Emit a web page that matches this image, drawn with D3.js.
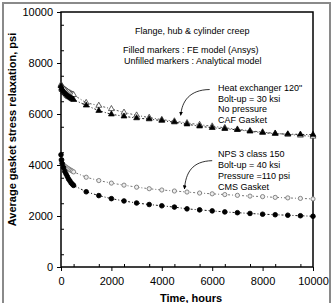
<!DOCTYPE html>
<html lang="en">
<head>
    <meta charset="UTF-8">
    <title>Gasket stress relaxation</title>
    <style>
        body { margin: 0; background: #fff; }
        svg { display: block; font-family: "Liberation Sans", Arial, sans-serif; }
    </style>
</head>
<body>
    <div id="chart"></div>
    <script src="https://d3js.org/d3.v7.min.js"></script>
    <script>
        // time points (hours) shared by all four series
        var hours = [0, 25, 50, 100, 150, 200, 250, 300, 350, 400, 450, 500,
            1000, 1500, 2000, 2500, 3000, 3500, 4000, 4500, 5000, 5500, 6000,
            6500, 7000, 7500, 8000, 8500, 9000, 9500, 10000];

        // Heat exchanger 120", FE model (filled triangles)
        var hxFE = [7100, 7000, 6950, 6880, 6820, 6770, 6720, 6680, 6650, 6620, 6590, 6560,
            6340, 6130, 5990, 5910, 5840, 5800, 5740, 5680, 5600, 5520, 5460,
            5420, 5380, 5320, 5270, 5230, 5210, 5200, 5190];
        // Heat exchanger 120", analytical model (unfilled triangles)
        var hxAnalytical = [7150, 7100, 7050, 7000, 6960, 6920, 6880, 6850, 6820, 6790, 6770, 6750,
            6440, 6330, 6200, 6060, 5950, 5860, 5780, 5720, 5650, 5580, 5520,
            5460, 5400, 5340, 5290, 5240, 5200, 5160, 5120];
        // NPS 3 class 150, FE model (filled circles)
        var npsFE = [4400, 4200, 4050, 3900, 3750, 3650, 3550, 3450, 3380, 3300, 3250, 3200,
            2950, 2800, 2680, 2590, 2510, 2450, 2400, 2350, 2280, 2240, 2200,
            2160, 2130, 2100, 2070, 2050, 2030, 2010, 1990];
        // NPS 3 class 150, analytical model (unfilled circles)
        var npsAnalytical = [4200, 4100, 4050, 4000, 3950, 3920, 3880, 3850, 3820, 3790, 3760, 3730,
            3520, 3390, 3290, 3210, 3130, 3070, 3020, 2980, 2940, 2900, 2870,
            2840, 2810, 2780, 2760, 2730, 2710, 2690, 2670];

        var xTicks = [0, 2000, 4000, 6000, 8000, 10000];
        var yTicks = [0, 2000, 4000, 6000, 8000, 10000];

        var noteLines = ["Flange, hub & cylinder creep", "Filled markers : FE model (Ansys)", "Unfilled markers : Analytical model"];
        var hxLabel = ["Heat exchanger 120\"", "Bolt-up = 30 ksi", "No pressure", "CAF Gasket"];
        var npsLabel = ["NPS 3 class 150", "Bolt-up = 40 ksi", "Pressure =110 psi", "CMS Gasket"];

        var W = 334, H = 303;
        var margin = { top: 12, right: 21, bottom: 36, left: 61 },
            width = W - margin.left - margin.right,
            height = H - margin.top - margin.bottom;

        var root = d3.select("#chart").append("svg")
            .attr("width", W)
            .attr("height", H);

        // outer figure frame
        root.append("rect")
            .attr("x", 3).attr("y", 3)
            .attr("width", 327).attr("height", 310)
            .attr("fill", "none")
            .attr("stroke", "#8a8a8a")
            .attr("stroke-width", 2);

        var svg = root.append("g")
            .attr("transform", "translate(" + margin.left + "," + margin.top + ")");

        var x = d3.scaleLinear().domain([0, 10000]).range([0, width]);
        var y = d3.scaleLinear().domain([0, 10000]).range([height, 0]);

        // minor ticks (inside)
        svg.append("g")
            .attr("transform", "translate(0," + height + ")")
            .call(d3.axisBottom(x).tickValues(d3.range(500, 10000, 1000)).tickSize(-3).tickFormat(""))
            .call(function (g) { g.select(".domain").remove(); });
        svg.append("g")
            .call(d3.axisLeft(y).tickValues(d3.range(500, 10000, 1000)).tickSize(-3).tickFormat(""))
            .call(function (g) { g.select(".domain").remove(); });

        // major ticks + labels
        var xAxis = svg.append("g")
            .attr("transform", "translate(0," + height + ")")
            .call(d3.axisBottom(x).tickValues(xTicks).tickSize(4).tickPadding(6).tickFormat(d3.format("d")));
        xAxis.select(".domain").remove();
        xAxis.selectAll("text").style("font-size", "11px").attr("fill", "#000");

        var yAxis = svg.append("g")
            .call(d3.axisLeft(y).tickValues(yTicks).tickSize(4).tickPadding(4).tickFormat(d3.format("d")));
        yAxis.select(".domain").remove();
        yAxis.selectAll("text").style("font-size", "11px").attr("fill", "#000");

        // plot border
        svg.append("rect")
            .attr("width", width).attr("height", height)
            .attr("fill", "none")
            .attr("stroke", "#000")
            .attr("stroke-width", 1.5);

        // axis titles
        svg.append("text")
            .attr("x", width / 2 + 4)
            .attr("y", height + 35)
            .attr("text-anchor", "middle")
            .style("font-size", "11px")
            .style("font-weight", "bold")
            .text("Time, hours");

        svg.append("text")
            .attr("transform", "rotate(-90)")
            .attr("x", -height / 2 + 10)
            .attr("y", -45)
            .attr("text-anchor", "middle")
            .style("font-size", "11px")
            .style("font-weight", "bold")
            .text("Average gasket stress relaxation, psi");

        var line = d3.line()
            .x(function (d) { return x(d[0]); })
            .y(function (d) { return y(d[1]); });

        var series = [
            { values: hxAnalytical, shape: "tri", fill: "#fff", stroke: "#222", lineColor: "#444" },
            { values: hxFE, shape: "tri", fill: "#000", stroke: "#000", lineColor: "#000" },
            { values: npsAnalytical, shape: "circle", fill: "#eee", stroke: "#7a7a7a", lineColor: "#666" },
            { values: npsFE, shape: "circle", fill: "#000", stroke: "#000", lineColor: "#000" }
        ];

        var tri = d3.symbol().type(d3.symbolTriangle).size(15);

        series.forEach(function (s) {
            var pts = hours.map(function (h, i) { return [h, s.values[i]]; });
            svg.append("path")
                .datum(pts)
                .attr("d", line)
                .attr("fill", "none")
                .attr("stroke", s.lineColor)
                .attr("stroke-width", 0.9)
                .attr("stroke-dasharray", "2,2,1,2");

            var g = svg.append("g");
            if (s.shape === "tri") {
                g.selectAll("path").data(pts).enter().append("path")
                    .attr("d", tri)
                    .attr("transform", function (d) { return "translate(" + x(d[0]) + "," + y(d[1]) + ")"; })
                    .attr("fill", s.fill)
                    .attr("stroke", s.stroke)
                    .attr("stroke-width", 0.7);
            } else {
                g.selectAll("circle").data(pts).enter().append("circle")
                    .attr("cx", function (d) { return x(d[0]); })
                    .attr("cy", function (d) { return y(d[1]); })
                    .attr("r", s.fill === "#000" ? 2.3 : 2.1)
                    .attr("fill", s.fill)
                    .attr("stroke", s.stroke)
                    .attr("stroke-width", 0.9);
            }
        });

        // annotation text
        var noteX = [74, 62, 63];
        var noteY = [22, 41, 52];
        noteLines.forEach(function (t, i) {
            svg.append("text")
                .attr("x", noteX[i]).attr("y", noteY[i])
                .style("font-size", "9px")
                .text(t);
        });

        hxLabel.forEach(function (t, i) {
            svg.append("text")
                .attr("x", 157).attr("y", 79 + i * 10.7)
                .style("font-size", "9px")
                .text(t);
        });
        npsLabel.forEach(function (t, i) {
            svg.append("text")
                .attr("x", 157).attr("y", 145 + i * 11)
                .style("font-size", "9px")
                .text(t);
        });

        // curved arrows
        svg.append("defs").append("marker")
            .attr("id", "head")
            .attr("viewBox", "0 0 10 10")
            .attr("refX", 9).attr("refY", 5)
            .attr("markerWidth", 5).attr("markerHeight", 5)
            .attr("orient", "auto")
            .append("path")
            .attr("d", "M0,0L10,5L0,10z")
            .attr("fill", "#000");

        svg.append("path")
            .attr("d", "M" + x(5900) + "," + y(6960) + " C" + x(5100) + "," + y(6950) + " " + x(4800) + "," + y(6500) + " " + x(4750) + "," + y(5950))
            .attr("fill", "none")
            .attr("stroke", "#000")
            .attr("stroke-width", 0.8)
            .attr("marker-end", "url(#head)");

        svg.append("path")
            .attr("d", "M" + x(6000) + "," + y(4170) + " C" + x(5200) + "," + y(4150) + " " + x(4950) + "," + y(3700) + " " + x(4900) + "," + y(3060))
            .attr("fill", "none")
            .attr("stroke", "#000")
            .attr("stroke-width", 0.8)
            .attr("marker-end", "url(#head)");
    </script>
</body>
</html>
